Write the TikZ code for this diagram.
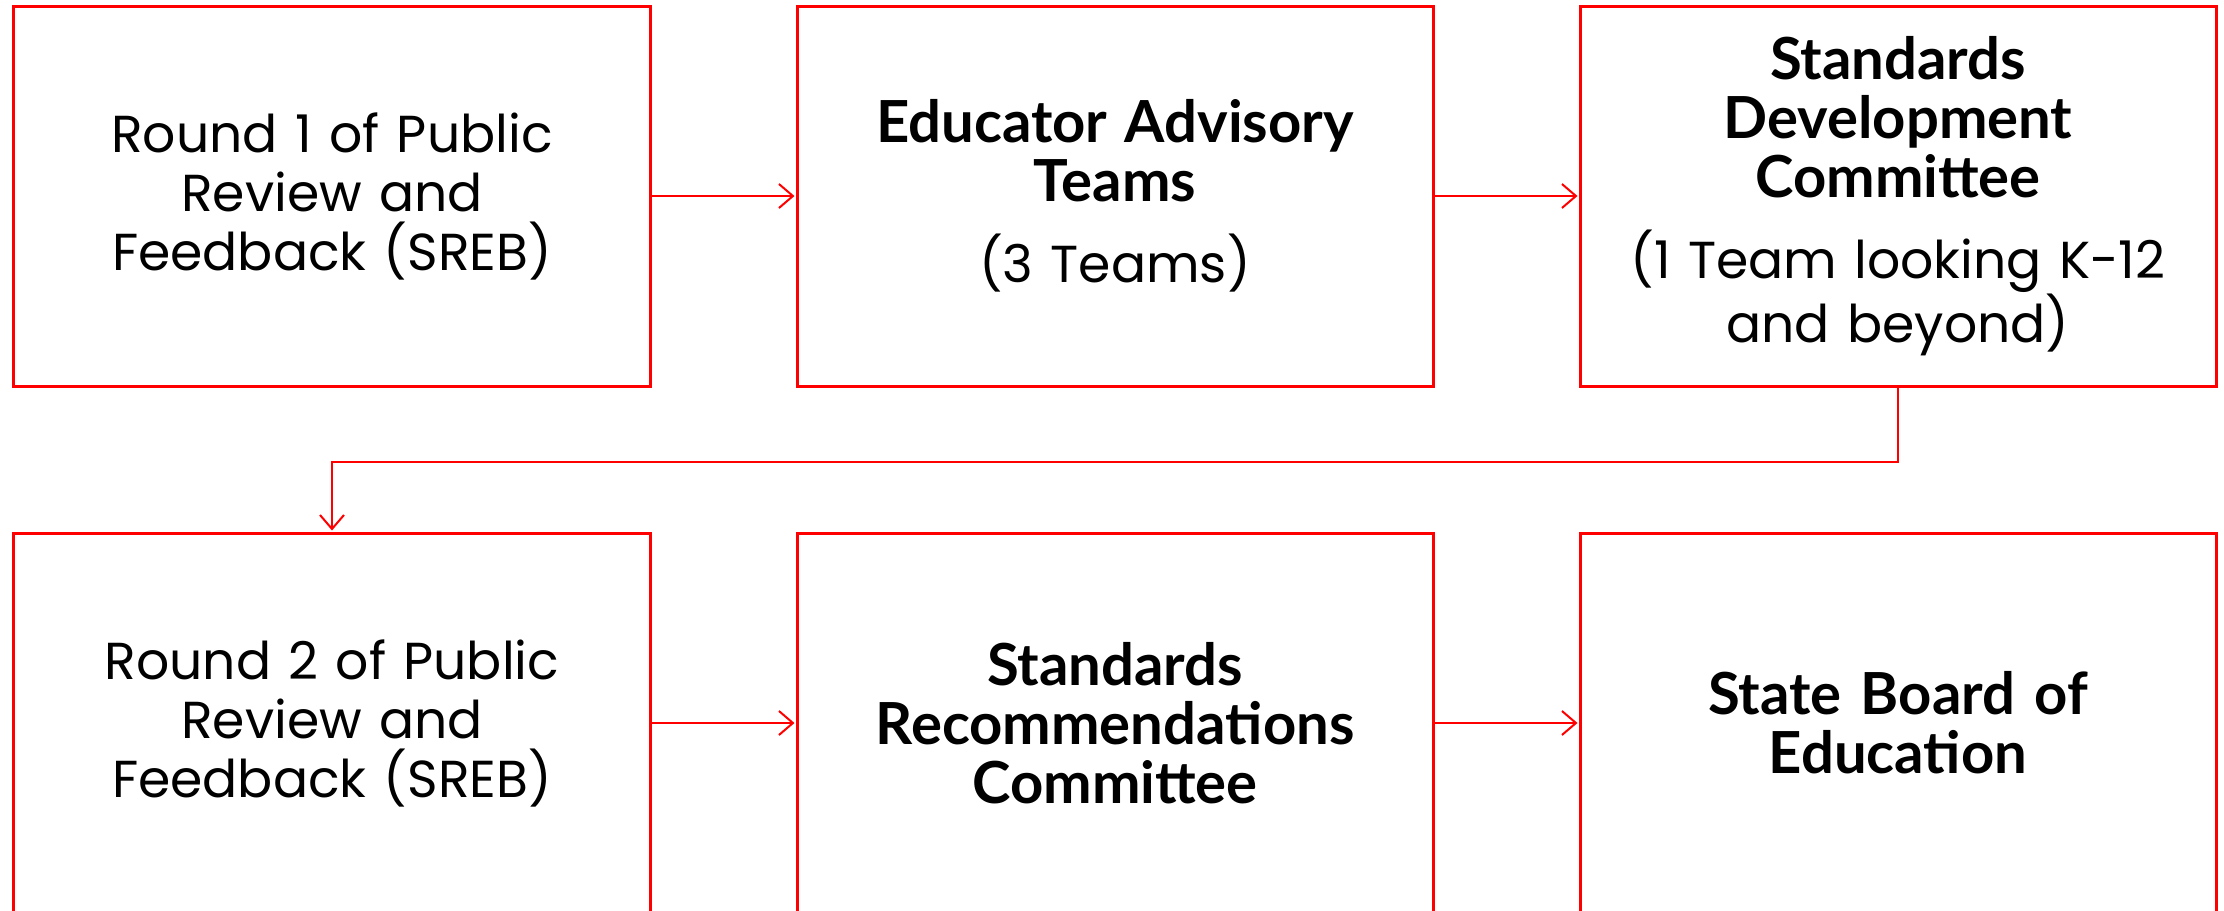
\documentclass[tikz,border=0pt]{standalone}
\usepackage{fontspec}
\setmainfont{Poppins}
\newfontfamily\headfont{Lato}
\usetikzlibrary{arrows.meta,positioning}

\begin{document}
\begin{tikzpicture}[>={Straight Barb[length=7pt,width=12pt]},shorten >=0.5pt,
    node distance=72pt and 72pt,
    step box/.style={draw=red,line width=1.5pt,minimum width=318pt,minimum height=190pt,
      align=center,text width=310pt,font=\fontsize{26}{29.5}\selectfont},
    head/.style={font=\headfont\bfseries\fontsize{29}{29.5}\selectfont},
    flow/.style={draw=red,line width=1pt}]
  \useasboundingbox (-166pt,98pt) rectangle ++(1112pt,-455.5pt);

  \node[step box] (r1) at (0,0) {Round 1 of Public\\Review and\\Feedback (SREB)};
  \node[step box] (eat) [right=of r1] {{\headfont\bfseries\fontsize{29}{29.5}\selectfont Educator Advisory\\Teams}\\[11pt](3 Teams)};
  \node[step box] (sdc) [right=of eat] {{\headfont\bfseries\fontsize{29}{29.5}\selectfont Standards\\Development\\Committee}\\[11pt](1 Team looking K-12\\and beyond)};

  \node[step box] (r2) [below=of r1] {Round 2 of Public\\Review and\\Feedback (SREB)};
  \node[step box,head] (src) [right=of r2] {Standards\\Recommendations\\Committee};
  \node[step box,head] (sbe) [right=of src] {State Board of\\Education};

  \path[flow,->]
    (r1) edge (eat)
    (eat) edge (sdc)
    (r2) edge (src)
    (src) edge (sbe);
  \draw[flow,->] (sdc.south) -- ++(0,-37pt) -| (r2.north);
\end{tikzpicture}
\end{document}
